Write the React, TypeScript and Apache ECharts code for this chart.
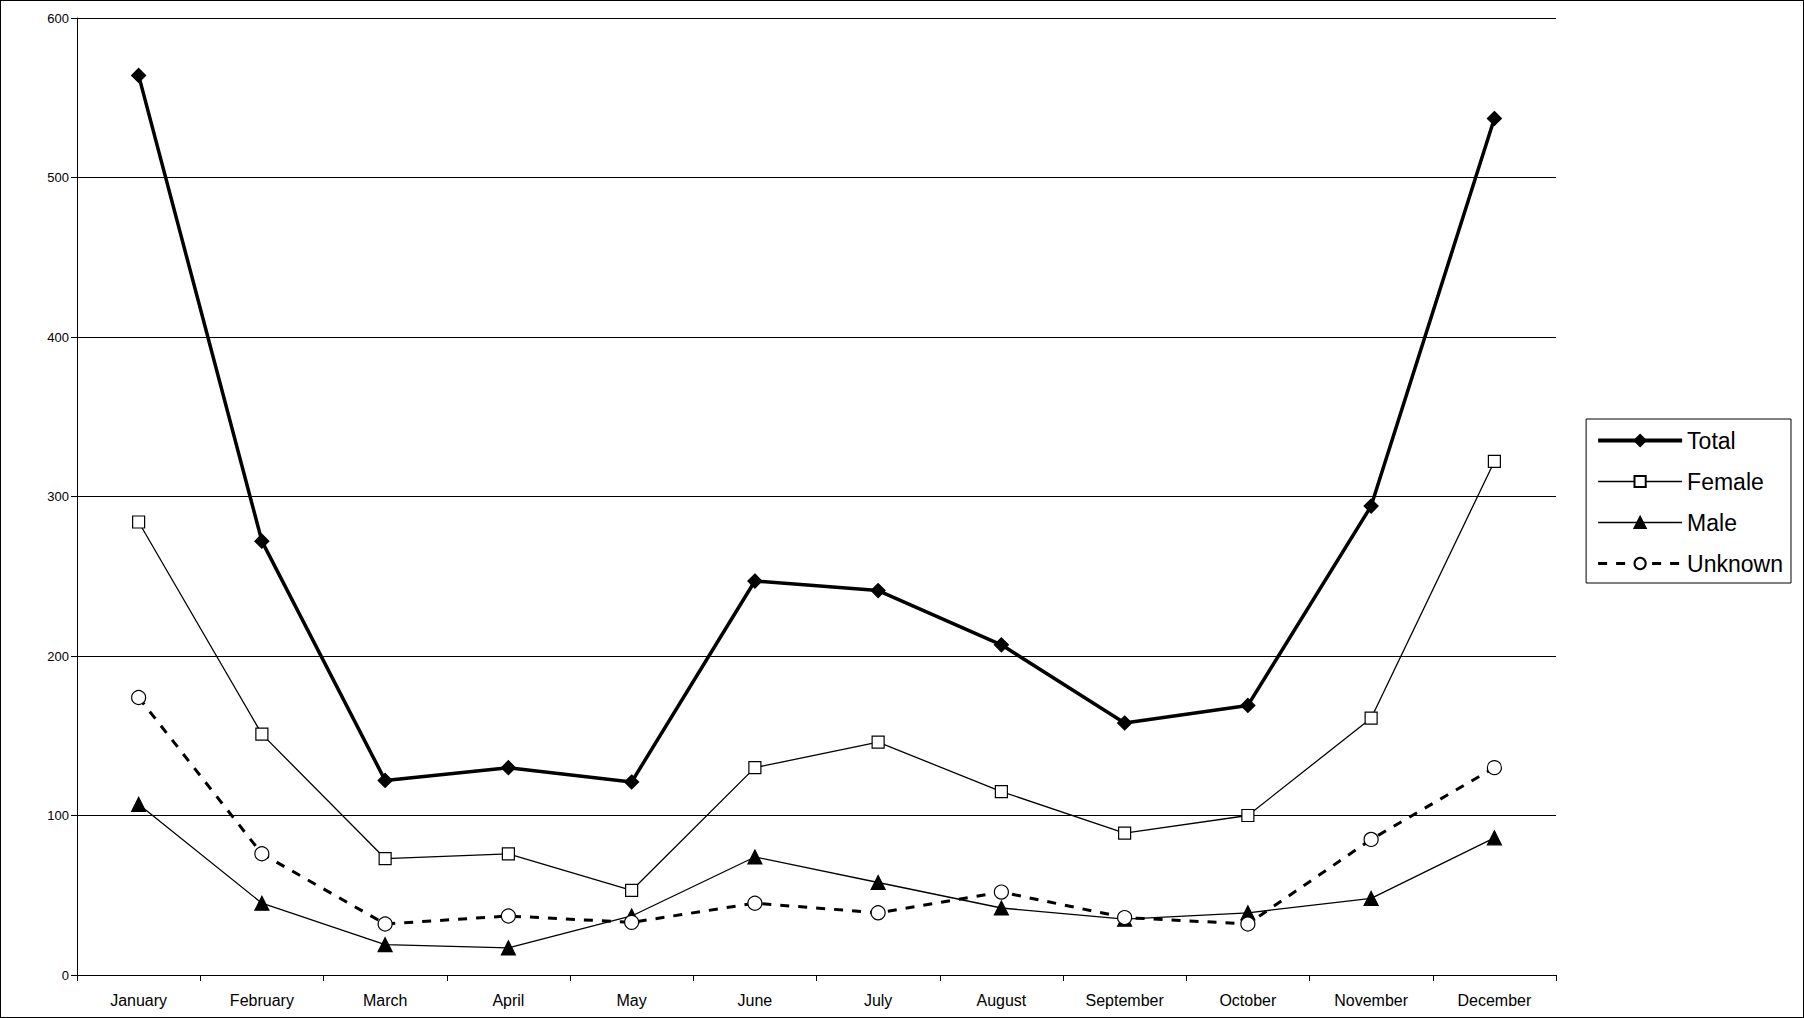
import React, { useEffect, useRef } from "react";
import * as echarts from "echarts";

const months = ["January","February","March","April","May","June","July","August","September","October","November","December"];
const total = [564,272,122,130,121,247,241,207,158,169,294,537];
const female = [284,151,73,76,53,130,146,115,89,100,161,322];
const male = [107,45,19,17,37,74,58,42,35,39,48,86];
const unknown = [174,76,32,37,33,45,39,52,36,32,85,130];

export default function App() {
  const ref = useRef<HTMLDivElement>(null);
  useEffect(() => {
    document.body.style.margin = "0";
    const chart = echarts.init(ref.current!, null, { renderer: "svg" });
    const font = "Liberation Sans, Arial, sans-serif";
    const mk = (name: string, data: number[], symbol: string, size: number, fill: string, width: number, type: any) => ({
      name, type: "line", data, symbol, symbolSize: size, showSymbol: true,
      lineStyle: { color: "#000", width, type },
      itemStyle: { color: fill, borderColor: "#000", borderWidth: 1.2 },
    });
    chart.setOption({
      animation: false,
      backgroundColor: "#fff",
      textStyle: { fontFamily: font },
      grid: { left: 76, right: 247, top: 17, bottom: 42 },
      legend: {
        orient: "vertical", right: 12, top: 418,
        itemWidth: 84, itemHeight: 14, itemGap: 18,
        padding: [10, 8, 8, 10],
        borderColor: "#000", borderWidth: 1,
        textStyle: { fontSize: 23, color: "#000", fontFamily: font },
        data: [
          { name: "Total", lineStyle: { width: 4 } },
          { name: "Female", lineStyle: { width: 1.3 } },
          { name: "Male", lineStyle: { width: 1.3 } },
          { name: "Unknown", lineStyle: { width: 3 } },
        ],
      },
      xAxis: {
        type: "category", data: months, boundaryGap: true,
        axisLine: { lineStyle: { color: "#000" } },
        axisTick: { show: true, lineStyle: { color: "#000" }, length: 6 },
        axisLabel: { color: "#000", fontSize: 16, margin: 17, fontFamily: font },
      },
      yAxis: {
        type: "value", min: 0, max: 600, interval: 100,
        axisLine: { show: true, lineStyle: { color: "#000" } },
        axisTick: { show: true, lineStyle: { color: "#000" }, length: 6 },
        axisLabel: { color: "#000", fontSize: 13, fontFamily: font },
        splitLine: { lineStyle: { color: "#000", width: 1 } },
      },
      series: [
        mk("Total", total, "diamond", 14, "#000", 3.5, "solid"),
        mk("Female", female, "rect", 12, "#fff", 1.3, "solid"),
        mk("Male", male, "triangle", 14, "#000", 1.3, "solid"),
        mk("Unknown", unknown, "circle", 14, "#fff", 3, [9, 9]),
      ],
    });
    return () => chart.dispose();
  }, []);
  return (
    <div style={{ width: 1804, height: 1018, position: "relative", boxSizing: "border-box", border: "1px solid #000" }}>
      <div ref={ref} style={{ width: "100%", height: "100%" }} />
    </div>
  );
}
